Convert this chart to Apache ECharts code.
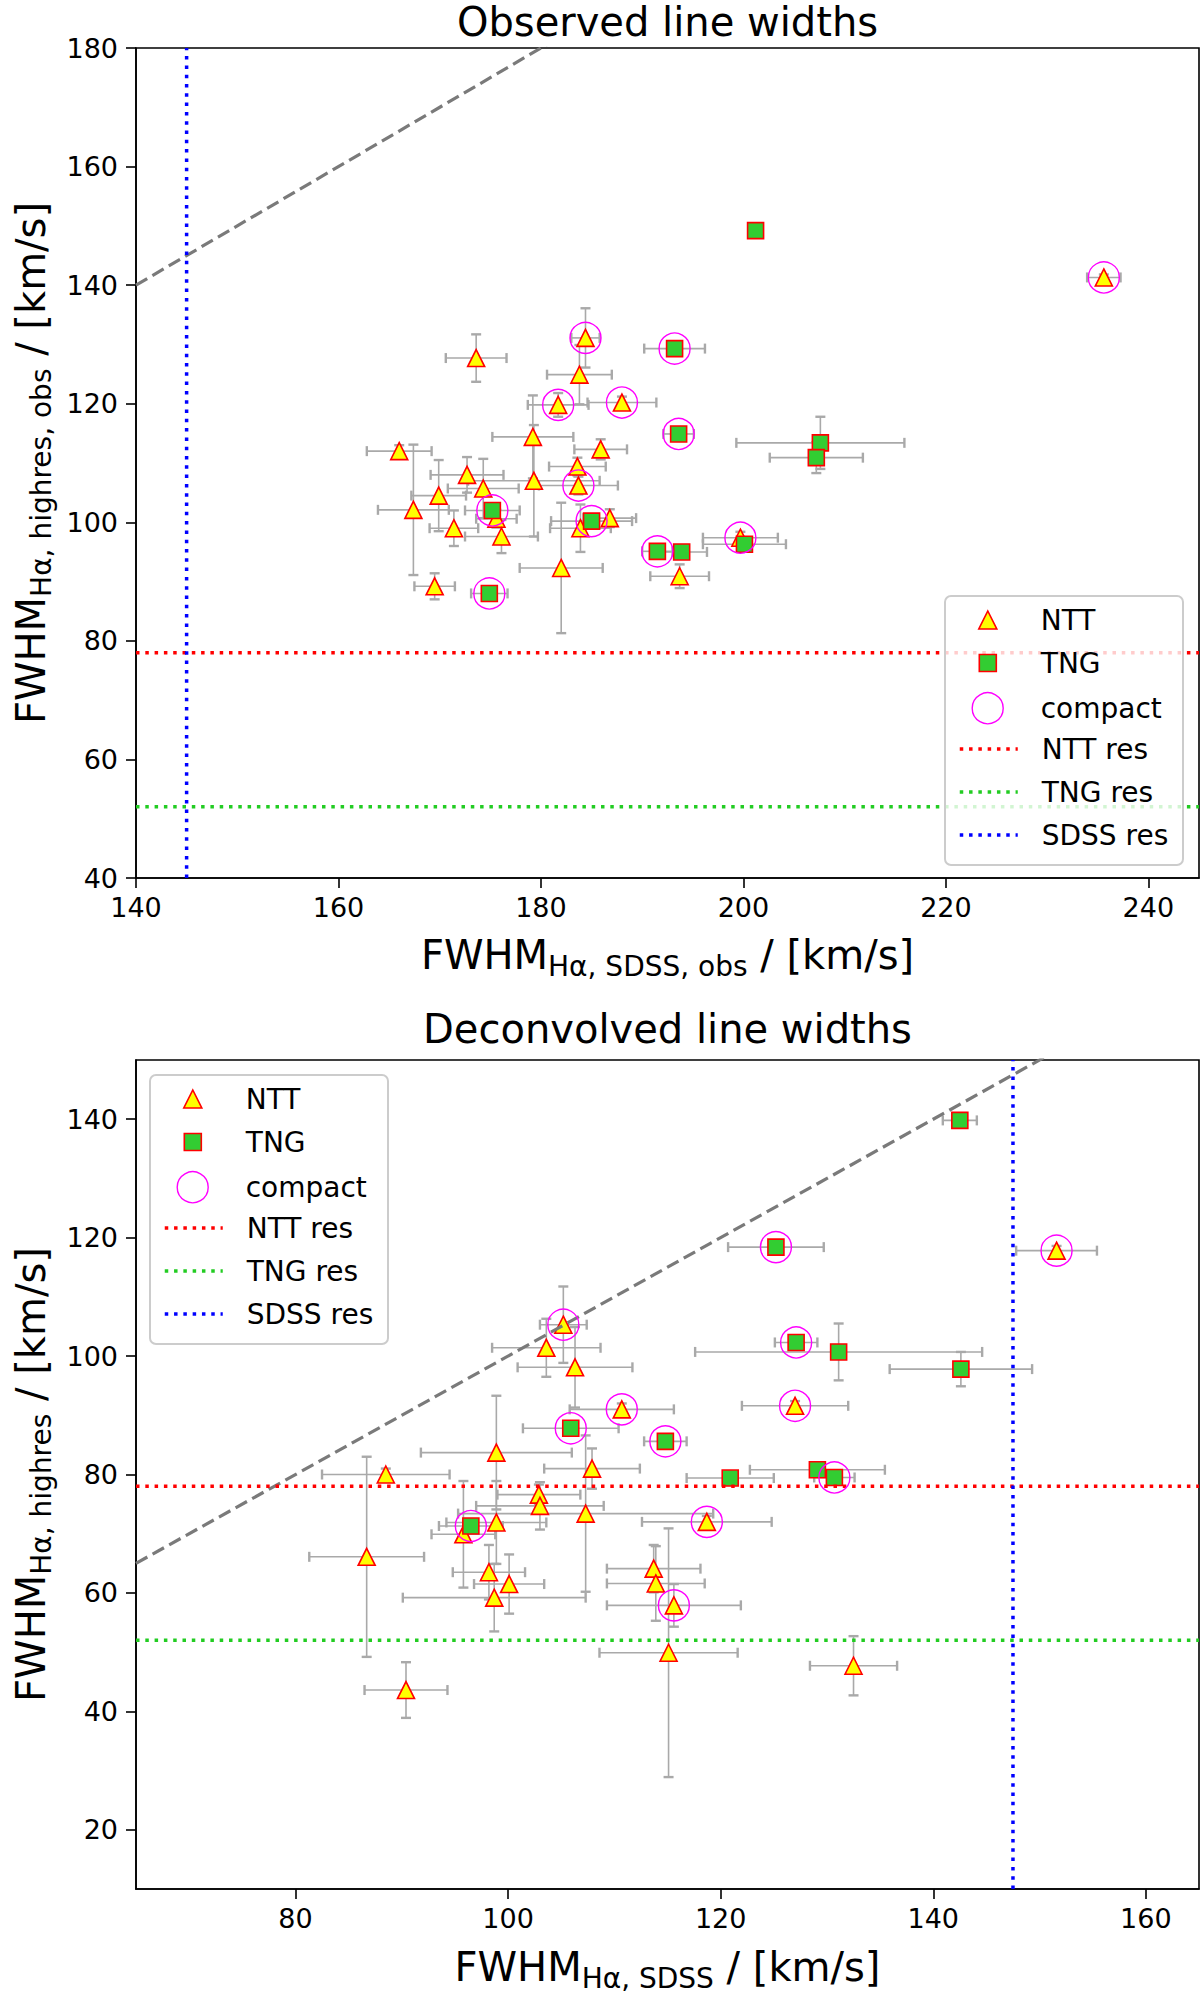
<!DOCTYPE html>
<html>
<head>
<meta charset="utf-8">
<script src="https://cdn.jsdelivr.net/npm/echarts@6/dist/echarts.min.js"></script>
<style>html,body{margin:0;padding:0;background:#fff}#c{width:1200px;height:1993px}</style>
</head>
<body>
<div id="c"></div>
<script>
// ---------- tick values ----------
const obsTickX = [140, 160, 180, 200, 220, 240];
const obsTickY = [40, 60, 80, 100, 120, 140, 160, 180];
const decTickX = [80, 100, 120, 140, 160];
const decTickY = [20, 40, 60, 80, 100, 120, 140];

// ---------- resolution limits ----------
const NTT_RES = 78;
const TNG_RES = 52;
const SDSS_RES_OBS = 145;
const SDSS_RES_DEC = 147.5;

// ---------- Observed: NTT ----------
const obsNttX    = [173.6, 184.4, 183.8, 181.7, 188.0, 179.2, 185.9, 183.6, 183.7, 179.3, 172.7, 174.3, 169.9, 167.4, 166.0, 175.6, 171.4, 176.1, 169.5, 182.0, 183.9, 186.8, 193.7, 199.7, 235.6];
const obsNttY    = [127.7, 131.1, 124.9, 119.8, 120.2, 114.4, 112.3, 109.4, 106.2, 107.0, 108.0, 105.7, 104.5, 102.1, 112.0, 100.6, 99.0, 97.6, 89.2, 92.3, 99.0, 100.7, 90.9, 97.4, 141.3];
const obsNttXerr = [3.0, 1.4, 3.2, 3.0, 3.4, 4.0, 2.6, 2.8, 3.9, 6.5, 3.6, 3.5, 2.7, 3.5, 3.2, 2.0, 2.4, 3.6, 2.0, 4.1, 3.0, 2.6, 2.9, 3.7, 1.65];
const obsNttYerr = [4.0, 5.0, 5.0, 2.0, 1.0, 7.0, 1.7, 1.5, 1.5, 9.4, 3.0, 5.0, 6.0, 11.0, 1.0, 1.5, 3.0, 2.8, 2.2, 11.0, 4.0, 1.5, 2.0, 1.0, 0.5];
const obsNttCompact = [0, 1, 0, 1, 1, 0, 0, 0, 1, 0, 0, 0, 0, 0, 0, 0, 0, 0, 0, 0, 0, 0, 0, 1, 1];

// ---------- Observed: TNG ----------
const obsTngX    = [193.2, 193.6, 175.2, 174.9, 185.0, 191.5, 193.9, 200.1, 201.2, 207.6, 207.2];
const obsTngY    = [129.3, 114.9, 102.0, 88.0, 100.2, 95.1, 95.0, 96.3, 149.2, 113.4, 110.9];
const obsTngXerr = [3.0, 1.5, 2.7, 1.8, 4.0, 1.5, 2.5, 4.1, 0.7, 8.3, 4.6];
const obsTngYerr = [0.8, 0.8, 1.0, 0.8, 1.0, 0.8, 0.8, 0.8, 0.5, 4.4, 2.6];
const obsTngCompact = [1, 1, 1, 1, 1, 1, 0, 0, 0, 0, 0];

// ---------- Deconvolved: NTT ----------
const decNttX    = [105.2, 103.6, 106.3, 110.7, 98.9, 88.5, 107.9, 102.9, 103.0, 107.3, 98.9, 95.8, 86.7, 98.2, 100.1, 98.7, 113.7, 113.9, 115.6, 118.7, 115.1, 132.5, 90.4, 151.6, 127.0];
const decNttY    = [105.3, 101.4, 98.1, 91.0, 83.7, 80.0, 81.0, 76.6, 74.7, 73.4, 71.9, 69.9, 66.1, 63.5, 61.5, 59.2, 64.1, 61.6, 57.9, 72.0, 49.9, 47.7, 43.6, 117.8, 91.6];
const decNttXerr = [2.2, 5.1, 5.4, 4.9, 7.1, 6.0, 4.5, 3.9, 6.0, 12.0, 4.7, 3.0, 5.4, 3.4, 3.3, 8.6, 4.4, 4.6, 6.3, 6.1, 6.5, 4.1, 3.9, 3.8, 5.0];
const decNttYerr = [6.45, 4.9, 6.8, 1.0, 9.6, 1.0, 3.4, 1.7, 4.0, 13.2, 7.0, 9.0, 16.9, 4.6, 5.0, 5.7, 4.0, 6.3, 3.6, 1.0, 21.0, 5.0, 4.7, 0.8, 0.8];
const decNttCompact = [1, 0, 0, 1, 0, 0, 0, 0, 0, 0, 0, 0, 0, 0, 0, 0, 0, 0, 1, 1, 0, 0, 0, 1, 1];

// ---------- Deconvolved: TNG ----------
const decTngX    = [142.5, 125.2, 127.1, 131.1, 142.6, 120.9, 129.1, 130.7, 105.9, 114.8, 96.5];
const decTngY    = [139.8, 118.4, 102.3, 100.7, 97.8, 79.4, 80.8, 79.5, 87.8, 85.6, 71.3];
const decTngXerr = [1.6, 4.5, 2.0, 13.5, 6.7, 4.1, 6.35, 1.9, 4.5, 2.0, 3.0];
const decTngYerr = [0.5, 0.5, 0.5, 4.8, 2.9, 0.5, 0.5, 0.5, 0.5, 0.5, 0.5];
const decTngCompact = [0, 1, 1, 0, 0, 0, 0, 1, 1, 1, 1];

// ---------- styling ----------
const FONT = 'DejaVu Sans';
const ERR_COLOR = '#a9a9a9';
const TRI_FILL = '#ffff00', EDGE = '#ff0000', SQ_FILL = '#32cd32', CIRC = '#ff00ff';
const C_NTT = '#ff0000', C_TNG = '#22cc22', C_SDSS = '#0000ff';
const DOT = [3.5, 5.8];
const NOSYM = { color: 'rgba(0,0,0,0)', borderColor: 'rgba(0,0,0,0)', borderWidth: 0, opacity: 0 };

function rows(x, y, xe, ye) { return x.map((v, i) => [v, y[i], xe[i], ye[i]]); }
function compactPts(x, y, flags) { const o = []; x.forEach((v, i) => { if (flags[i]) o.push([v, y[i]]); }); return o; }

function errRender(params, api) {
  const x = api.value(0), y = api.value(1), xe = api.value(2), ye = api.value(3);
  const c = api.coord([x, y]);
  const l = api.coord([x - xe, y]), r = api.coord([x + xe, y]);
  const t = api.coord([x, y + ye]), b = api.coord([x, y - ye]);
  const cap = 5;
  const s = { stroke: ERR_COLOR, lineWidth: 1.6 };
  const sc = { stroke: ERR_COLOR, lineWidth: 2.4 };
  return { type: 'group', children: [
    { type: 'line', shape: { x1: l[0], y1: c[1], x2: r[0], y2: c[1] }, style: s },
    { type: 'line', shape: { x1: c[0], y1: t[1], x2: c[0], y2: b[1] }, style: s },
    { type: 'line', shape: { x1: l[0], y1: c[1] - cap, x2: l[0], y2: c[1] + cap }, style: sc },
    { type: 'line', shape: { x1: r[0], y1: c[1] - cap, x2: r[0], y2: c[1] + cap }, style: sc },
    { type: 'line', shape: { x1: c[0] - cap, y1: t[1], x2: c[0] + cap, y2: t[1] }, style: sc },
    { type: 'line', shape: { x1: c[0] - cap, y1: b[1], x2: c[0] + cap, y2: b[1] }, style: sc }
  ]};
}

function plotSeries(idx, nttRows, tngRows, compact, xr, yr, sdss) {
  const ax = { xAxisIndex: idx, yAxisIndex: idx };
  const dotted = (c) => ({ color: c, width: 3.5, type: DOT, cap: 'butt' });
  return [
    Object.assign({ type: 'custom', name: 'errNTT' + idx, renderItem: errRender, data: nttRows, encode: { x: 0, y: 1 }, z: 1, clip: true, silent: true }, ax),
    Object.assign({ type: 'custom', name: 'errTNG' + idx, renderItem: errRender, data: tngRows, encode: { x: 0, y: 1 }, z: 1, clip: true, silent: true }, ax),
    Object.assign({ type: 'scatter', name: 'NTT', symbol: 'triangle', symbolSize: 17, data: nttRows.map(r => [r[0], r[1]]),
      itemStyle: { color: TRI_FILL, borderColor: EDGE, borderWidth: 1.6, opacity: 1 }, z: 2, silent: true }, ax),
    Object.assign({ type: 'scatter', name: 'TNG', symbol: 'rect', symbolSize: 16, data: tngRows.map(r => [r[0], r[1]]),
      itemStyle: { color: SQ_FILL, borderColor: EDGE, borderWidth: 1.6, opacity: 1 }, z: 3, silent: true }, ax),
    Object.assign({ type: 'scatter', name: 'compact', symbol: 'circle', symbolSize: 31, data: compact,
      itemStyle: { color: 'rgba(0,0,0,0)', borderColor: CIRC, borderWidth: 1.4, opacity: 1 }, z: 4, silent: true }, ax),
    Object.assign({ type: 'line', name: 'one2one', data: [[xr[0], xr[0]], [xr[1], xr[1]]], symbol: 'none', clip: true,
      lineStyle: { color: '#7a7a7a', width: 3.2, type: [13, 6] }, z: 4, silent: true }, ax),
    Object.assign({ type: 'line', name: 'NTT res', data: [[xr[0], NTT_RES], [xr[1], NTT_RES]], symbol: 'none', itemStyle: { color: C_NTT }, lineStyle: dotted(C_NTT), z: 4, silent: true }, ax),
    Object.assign({ type: 'line', name: 'TNG res', data: [[xr[0], TNG_RES], [xr[1], TNG_RES]], symbol: 'none', itemStyle: { color: C_TNG }, lineStyle: dotted(C_TNG), z: 4, silent: true }, ax),
    Object.assign({ type: 'line', name: 'SDSS res', data: [[sdss, yr[0]], [sdss, yr[1]]], symbol: 'none', itemStyle: { color: C_SDSS }, lineStyle: dotted(C_SDSS), z: 4, silent: true }, ax)
  ];
}

// legend: one component per row so that icon sizes can differ
function legendRows(boxX, boxY) {
  const cx = boxX + 42, textX = boxX + 95, firstRow = boxY + 26, step = 43;
  const out = [];
  const mk = (name, row, iw, ih, extra) => {
    const left = cx - iw / 2;
    const pad = textX - (left + iw + 5);
    return {
      show: true, orient: 'vertical', left: left, top: firstRow + row * step - 16, padding: 0,
      itemWidth: iw, itemHeight: ih, selectedMode: false, z: 6,
      formatter: n => '{t|' + n + '}',
      textStyle: { rich: { t: { fontFamily: FONT, fontSize: 28, lineHeight: 32, color: '#000', padding: [0, 0, 0, pad] } } },
      data: [Object.assign({ name: name }, extra)]
    };
  };
  out.push(mk('NTT', 0, 18, 18, { icon: 'triangle', itemStyle: { color: TRI_FILL, borderColor: EDGE, borderWidth: 1.6 } }));
  out.push(mk('TNG', 1, 17, 17, { icon: 'rect', itemStyle: { color: SQ_FILL, borderColor: EDGE, borderWidth: 1.6 } }));
  out.push(mk('compact', 2, 31, 31, { icon: 'circle', itemStyle: { color: 'rgba(0,0,0,0)', borderColor: CIRC, borderWidth: 1.4 } }));
  out.push(mk('NTT res', 3, 58, 14, { itemStyle: NOSYM, lineStyle: { color: C_NTT, width: 3.5, type: DOT } }));
  out.push(mk('TNG res', 4, 58, 14, { itemStyle: NOSYM, lineStyle: { color: C_TNG, width: 3.5, type: DOT } }));
  out.push(mk('SDSS res', 5, 58, 14, { itemStyle: NOSYM, lineStyle: { color: C_SDSS, width: 3.5, type: DOT } }));
  return out;
}

const richName = {
  m: { fontFamily: FONT, fontSize: 40, lineHeight: 50, color: '#000', verticalAlign: 'middle' },
  s: { fontFamily: FONT, fontSize: 28, lineHeight: 26, color: '#000', verticalAlign: 'bottom' }
};
function axisName(sub) { return '{m|FWHM}{s|' + sub + '}{m| / [km/s]}'; }

function valueAxis(idx, min, max, ticks, name, gap, isY) {
  const a = {
    type: 'value', gridIndex: idx, min: min, max: max,
    name: name, nameLocation: 'middle', nameGap: gap,
    nameTextStyle: { rich: richName },
    axisLine: { show: true, onZero: false, lineStyle: { color: '#000', width: 1.6 } },
    axisTick: { show: true, inside: false, length: 10, lineStyle: { color: '#000', width: 1.6 }, customValues: ticks },
    axisLabel: { show: true, margin: isY ? 18 : 16, fontFamily: FONT, fontSize: 27, color: '#000', customValues: ticks, showMinLabel: true, showMaxLabel: true },
    splitLine: { show: false }
  };
  if (isY) a.nameRotate = 90;
  return a;
}

function textWidth(txt, font) {
  const c = document.createElement('canvas').getContext('2d');
  c.font = font; return c.measureText(txt).width;
}

const GL = 136, GW = 1063, GH = 830, G1T = 48, G2T = 1060;
const AX_CX = GL + GW / 2;
const t1 = 'Observed line widths', t2 = 'Deconvolved line widths';
const tFont = '40px "' + FONT + '"';

const obsNtt = rows(obsNttX, obsNttY, obsNttXerr, obsNttYerr);
const obsTng = rows(obsTngX, obsTngY, obsTngXerr, obsTngYerr);
const decNtt = rows(decNttX, decNttY, decNttXerr, decNttYerr);
const decTng = rows(decTngX, decTngY, decTngXerr, decTngYerr);
const obsCompact = compactPts(obsNttX, obsNttY, obsNttCompact).concat(compactPts(obsTngX, obsTngY, obsTngCompact));
const decCompact = compactPts(decNttX, decNttY, decNttCompact).concat(compactPts(decTngX, decTngY, decTngCompact));

const chart = echarts.init(document.getElementById('c'), null, { renderer: 'svg', width: 1200, height: 1993 });
const option = {
  backgroundColor: '#ffffff',
  animation: false,
  title: [
    { text: t1, left: AX_CX - textWidth(t1, tFont) / 2, top: 2, padding: 0, textStyle: { fontFamily: FONT, fontSize: 40, fontWeight: 'normal', color: '#000' } },
    { text: t2, left: AX_CX - textWidth(t2, tFont) / 2, top: 1009, padding: 0, textStyle: { fontFamily: FONT, fontSize: 40, fontWeight: 'normal', color: '#000' } }
  ],
  grid: [
    { left: GL, top: G1T, width: GW, height: GH, show: true, borderColor: '#000', borderWidth: 1.6, backgroundColor: 'transparent', containLabel: false },
    { left: GL, top: G2T, width: GW, height: GH, show: true, borderColor: '#000', borderWidth: 1.6, backgroundColor: 'transparent', containLabel: false }
  ],
  xAxis: [
    valueAxis(0, 140, 245, obsTickX, axisName('Hα, SDSS, obs'), 52, false),
    valueAxis(1, 65, 165, decTickX, axisName('Hα, SDSS'), 53, false)
  ],
  yAxis: [
    valueAxis(0, 40, 180, obsTickY, axisName('Hα, highres, obs'), 80, true),
    valueAxis(1, 10, 150, decTickY, axisName('Hα, highres'), 80, true)
  ],
  legend: legendRows(945, 596).concat(legendRows(150, 1075)),
  graphic: [
    { type: 'rect', z: 5, shape: { x: 945, y: 596, width: 238, height: 269, r: 6 }, style: { fill: 'rgba(255,255,255,0.8)', stroke: '#cccccc', lineWidth: 2 } },
    { type: 'rect', z: 5, shape: { x: 150, y: 1075, width: 238, height: 269, r: 6 }, style: { fill: 'rgba(255,255,255,0.8)', stroke: '#cccccc', lineWidth: 2 } }
  ],
  series: plotSeries(0, obsNtt, obsTng, obsCompact, [140, 245], [40, 180], SDSS_RES_OBS)
    .concat(plotSeries(1, decNtt, decTng, decCompact, [65, 165], [10, 150], SDSS_RES_DEC))
};
chart.setOption(option);
</script>
</body>
</html>
